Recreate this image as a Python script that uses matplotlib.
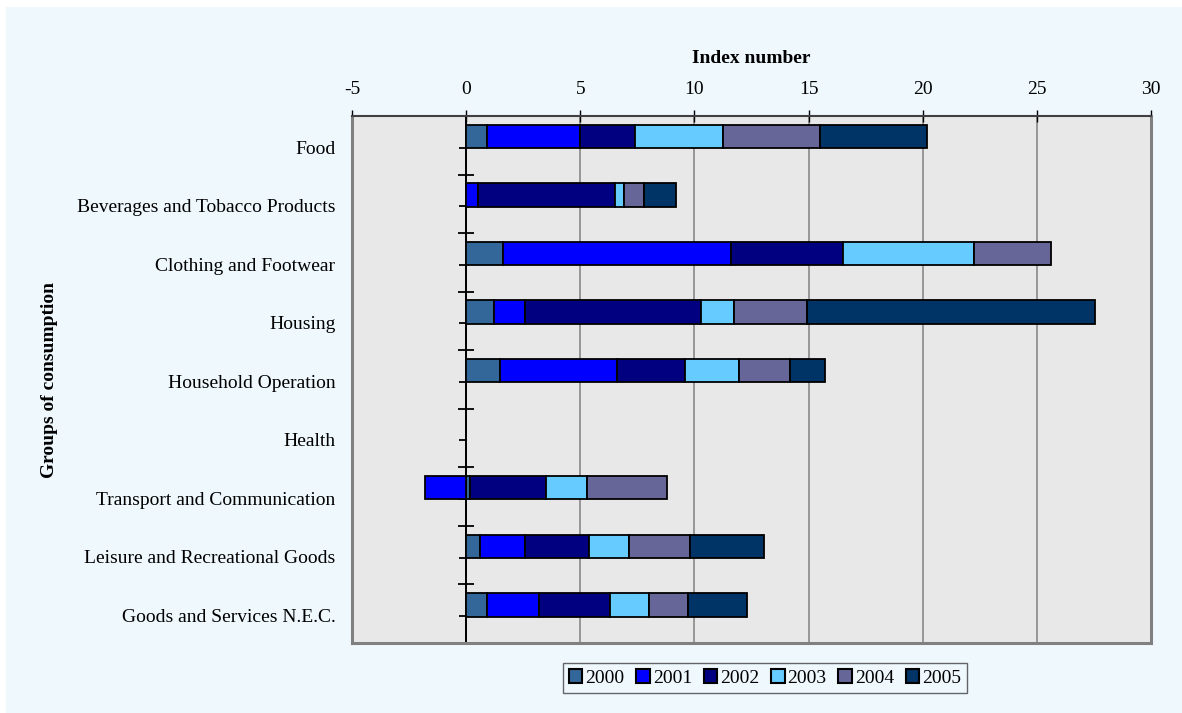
import numpy as np
import matplotlib
matplotlib.use("Agg")
import matplotlib.pyplot as plt
from matplotlib.patches import Rectangle

categories = ["Food", "Beverages and Tobacco Products", "Clothing and Footwear",
              "Housing", "Household Operation", "Health",
              "Transport and Communication", "Leisure and Recreational Goods",
              "Goods and Services N.E.C."]
years = ["2000", "2001", "2002", "2003", "2004", "2005"]
v2000 = [0.9, 0.0, 1.6, 1.2, 1.5, 0.0, 0.15, 0.6, 0.9]
v2001 = [4.1, 0.5, 10.0, 1.4, 5.1, 0.0, -1.8, 2.0, 2.3]
v2002 = [2.4, 6.0, 4.9, 7.7, 3.0, 0.0, 3.35, 2.8, 3.1]
v2003 = [3.85, 0.4, 5.75, 1.45, 2.35, 0.0, 1.8, 1.75, 1.7]
v2004 = [4.25, 0.9, 3.35, 3.2, 2.25, 0.0, 3.5, 2.65, 1.7]
v2005 = [4.7, 1.4, 0.0, 12.6, 1.5, 0.0, 0.0, 3.25, 2.6]
series = [v2000, v2001, v2002, v2003, v2004, v2005]
colors = ["#336699", "#0000FF", "#000080", "#66CCFF", "#666699", "#003366"]
xticks = [-5, 0, 5, 10, 15, 20, 25, 30]

plt.rcParams['font.family'] = ['Liberation Serif', 'DejaVu Serif']

W, H = 1182, 713
fig = plt.figure(figsize=(W / 100, H / 100), dpi=100, facecolor="white")
bg = "#EEF8FD"
fig.patches.append(Rectangle((6 / W, 0), 1 - 6 / W, 1 - 7 / H, transform=fig.transFigure,
                             facecolor=bg, edgecolor="none", zorder=-10))

L, R, T, B = 352, 1151, 116, 643
ax = fig.add_axes([L / W, 1 - B / H, (R - L) / W, (B - T) / H])
ax.set_facecolor("#E8E8E8")

n = len(categories)
ypos = np.arange(n)
pos_left = np.zeros(n)
neg_left = np.zeros(n)
for vals, col, yr in zip(series, colors, years):
    vals = np.array(vals, dtype=float)
    left = np.where(vals >= 0, pos_left, neg_left)
    widths = np.where(vals == 0, np.nan, vals)
    ax.barh(ypos - 0.152, widths, left=left, height=0.40, color=col,
            edgecolor="black", linewidth=1.3, label=yr, zorder=3)
    pos_left = pos_left + np.where(vals > 0, vals, 0)
    neg_left = neg_left + np.where(vals < 0, vals, 0)

ax.set_xlim(-5, 30)
ax.set_ylim(n - 0.5, -0.5)

# top x-axis
ax.xaxis.tick_top()
ax.xaxis.set_label_position('top')
ax.set_xticks(xticks)
ax.set_xticklabels([str(t) for t in xticks], fontsize=14)
ax.tick_params(axis='x', direction='inout', length=8, width=1, color="black", pad=9)
ax.set_xlabel("Index number", fontsize=14, fontweight="bold", labelpad=13)
ax.grid(axis='x', color="#808080", linewidth=1.1, zorder=0)
ax.set_axisbelow(True)

# zero axis line
ax.axvline(0, color="black", linewidth=1.4, zorder=2.5)

# category labels at left edge
ax.set_yticks(ypos + 0.03)
ax.set_yticklabels(categories, fontsize=14)
ax.tick_params(axis='y', length=0, pad=12)

for s in ["left", "bottom", "right"]:
    ax.spines[s].set_color("#808080")
    ax.spines[s].set_linewidth(2.2)
ax.spines["top"].set_color("#404040")
ax.spines["top"].set_linewidth(1.5)

# zero axis category ticks
sec = ax.secondary_yaxis(5 / 35)
sec.spines["left"].set_color("black")
sec.spines["left"].set_linewidth(1.4)
sec.set_yticks(np.arange(n + 1) - 0.5)
sec.set_yticks(ypos + 0.04, minor=True)
sec.set_yticklabels([])
sec.tick_params(axis='y', which='major', direction='inout', length=12, width=1.3, color="black")
sec.tick_params(axis='y', which='minor', direction='out', length=5, width=1.3, color="black",
                labelleft=False)

fig.text(50 / W, 1 - 380 / H, "Groups of consumption", rotation=90, ha="center",
         va="center", fontsize=14, fontweight="bold")

leg = fig.legend(loc="center", bbox_to_anchor=(765 / W, 1 - 678 / H), ncol=6,
                 fontsize=14, frameon=True, fancybox=False, handlelength=0.7,
                 handleheight=0.7, handletextpad=0.15, columnspacing=0.6,
                 borderpad=0.3, borderaxespad=0)
leg.get_frame().set_edgecolor("#404040")
leg.get_frame().set_facecolor(bg)
leg.get_frame().set_linewidth(1.0)
for h in leg.legend_handles:
    h.set_edgecolor("black")
    h.set_linewidth(1.5)

fig.savefig("out.png", dpi=100, facecolor="white")
